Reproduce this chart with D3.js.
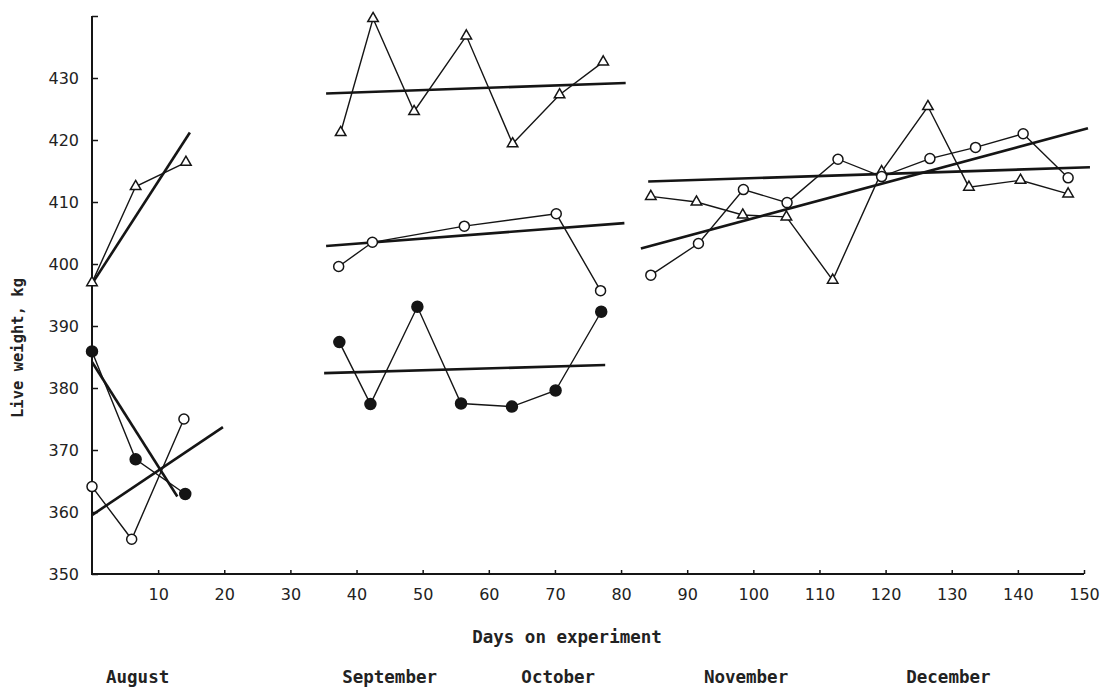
<!DOCTYPE html>
<html>
<head>
<meta charset="utf-8">
<script src="https://cdn.jsdelivr.net/npm/d3@7"></script>
<style>
  body { margin: 0; background: #fff; }
  .tick text { font-family: "DejaVu Sans", sans-serif; font-size: 16px; fill: #222; }
  .lbl { font-family: "DejaVu Sans Mono", monospace; font-weight: bold; fill: #222; }
</style>
</head>
<body>
<svg id="weights" width="1108" height="691"></svg>
<script>
// ticks
var xTicks = [10, 20, 30, 40, 50, 60, 70, 80, 90, 100, 110, 120, 130, 140, 150]
var yTicks = [350, 360, 370, 380, 390, 400, 410, 420, 430, 440]
var months = ["August", "September", "October", "November", "December"]
var monthDays = [6.9, 45, 70.5, 98.9, 129.5]

// August block
var augTriDays = [0, 6.6, 14.2]
var augTriKg = [397, 412.5, 416.4]
var augFullDays = [0, 6.6, 14.1]
var augFullKg = [385.9, 368.5, 362.9]
var augOpenDays = [0, 6.0, 13.9]
var augOpenKg = [364.1, 355.6, 375]

// September - October block
var midTriDays = [37.6, 42.5, 48.7, 56.6, 63.6, 70.7, 77.3]
var midTriKg = [421.2, 439.6, 424.6, 436.8, 419.4, 427.3, 432.6]
var midOpenDays = [37.3, 42.4, 56.3, 70.2, 76.9]
var midOpenKg = [399.6, 403.5, 406.1, 408.1, 395.7]
var midFullDays = [37.4, 42.1, 49.2, 55.8, 63.5, 70.1, 77.0]
var midFullKg = [387.4, 377.4, 393.1, 377.5, 377, 379.6, 392.3]

// November - December block
var endTriDays = [84.5, 91.4, 98.4, 105, 112, 119.4, 126.4, 132.6, 140.4, 147.6]
var endTriKg = [410.9, 410, 407.9, 407.6, 397.4, 414.9, 425.4, 412.4, 413.5, 411.3]
var endOpenDays = [84.5, 91.7, 98.5, 105.1, 112.8, 119.4, 126.7, 133.6, 140.8, 147.6]
var endOpenKg = [398.2, 403.3, 412, 409.9, 416.9, 414.1, 417, 418.8, 421, 413.9]

// fitted trend lines: start and end
var fitDays = [[0, 14.8], [0, 12.9], [0, 19.8], [35.4, 80.7], [35.4, 80.5], [35.1, 77.6], [84.1, 150.9], [83, 150.6]]
var fitKg = [[396.8, 421.2], [384.2, 362.5], [359.5, 373.7], [427.5, 429.2], [402.9, 406.6], [382.4, 383.7], [413.3, 415.6], [402.5, 421.9]]

var series = [
    {days: augTriDays, kg: augTriKg, mark: "tri"},
    {days: augFullDays, kg: augFullKg, mark: "full"},
    {days: augOpenDays, kg: augOpenKg, mark: "open"},
    {days: midTriDays, kg: midTriKg, mark: "tri"},
    {days: midOpenDays, kg: midOpenKg, mark: "open"},
    {days: midFullDays, kg: midFullKg, mark: "full"},
    {days: endTriDays, kg: endTriKg, mark: "tri"},
    {days: endOpenDays, kg: endOpenKg, mark: "open"}
]

var svg = d3.select("#weights")
var ink = "#151515"

var xScale = d3.scaleLinear().domain([0, 150]).range([92, 1084])
var yScale = d3.scaleLinear().domain([350, 430]).range([574, 78])

var drawAxes = function() {
    var xAxis = d3.axisBottom(xScale)
        .tickValues(xTicks)
        .tickSizeInner(-4)
        .tickSizeOuter(0)
        .tickPadding(15)
    var gx = svg.append("g")
        .attr("transform", "translate(0," + yScale(350) + ")")
        .call(xAxis)
    gx.select(".domain").attr("d", "M" + (xScale(0) - 1) + ",0H" + xScale(150))

    var yAxis = d3.axisLeft(yScale)
        .tickValues(yTicks)
        .tickSizeInner(-6)
        .tickSizeOuter(0)
        .tickPadding(13)
        .tickFormat(d => d == 440 ? "" : d)
    var gy = svg.append("g")
        .attr("transform", "translate(" + xScale(0) + ",0)")
        .call(yAxis)
    gy.select(".domain").attr("d", "M0," + yScale(440) + "V" + (yScale(350) + 1))

    svg.selectAll(".domain").attr("stroke", ink).attr("stroke-width", 2)
    svg.selectAll(".tick line").attr("stroke", ink).attr("stroke-width", 1.5)
}

var drawLines = function() {
    var line = d3.line()
        .x(d => xScale(d[0]))
        .y(d => yScale(d[1]))

    svg.selectAll("path.fit")
        .data(fitDays)
        .enter()
        .append("path")
            .attr("class", "fit")
            .attr("fill", "none")
            .attr("stroke", ink)
            .attr("stroke-width", 2.6)
            .attr("d", (d, i) => line(d3.zip(d, fitKg[i])))

    svg.selectAll("path.data")
        .data(series)
        .enter()
        .append("path")
            .attr("class", "data")
            .attr("fill", "none")
            .attr("stroke", ink)
            .attr("stroke-width", 1.4)
            .attr("d", s => line(d3.zip(s.days, s.kg)))
}

var drawMarks = function() {
    var tri = d3.symbol().type(d3.symbolTriangle).size(48)
    series.forEach(function(s) {
        var pts = d3.zip(s.days, s.kg)
        var g = svg.append("g")
        if (s.mark == "tri") {
            g.selectAll("path")
                .data(pts)
                .enter()
                .append("path")
                    .attr("d", tri)
                    .attr("transform", d => "translate(" + xScale(d[0]) + "," + yScale(d[1]) + ")")
                    .attr("fill", "#fff")
                    .attr("stroke", ink)
                    .attr("stroke-width", 1.5)
        } else {
            g.selectAll("circle")
                .data(pts)
                .enter()
                .append("circle")
                    .attr("cx", d => xScale(d[0]))
                    .attr("cy", d => yScale(d[1]))
                    .attr("r", s.mark == "full" ? 5.5 : 5)
                    .attr("fill", s.mark == "full" ? ink : "#fff")
                    .attr("stroke", ink)
                    .attr("stroke-width", 1.5)
        }
    })
}

var drawLabels = function() {
    svg.append("text")
        .attr("class", "lbl")
        .attr("transform", "translate(23,348) rotate(-90)")
        .attr("text-anchor", "middle")
        .style("font-size", "15.5px")
        .text("Live weight, kg")

    svg.append("text")
        .attr("class", "lbl")
        .attr("x", 567)
        .attr("y", 643)
        .attr("text-anchor", "middle")
        .style("font-size", "17.5px")
        .text("Days on experiment")

    svg.selectAll("text.month")
        .data(months)
        .enter()
        .append("text")
            .attr("class", "lbl month")
            .attr("x", (d, i) => xScale(monthDays[i]))
            .attr("y", 683)
            .attr("text-anchor", "middle")
            .style("font-size", "17.5px")
            .text(d => d)
}

drawAxes()
drawLines()
drawMarks()
drawLabels()
</script>
</body>
</html>
